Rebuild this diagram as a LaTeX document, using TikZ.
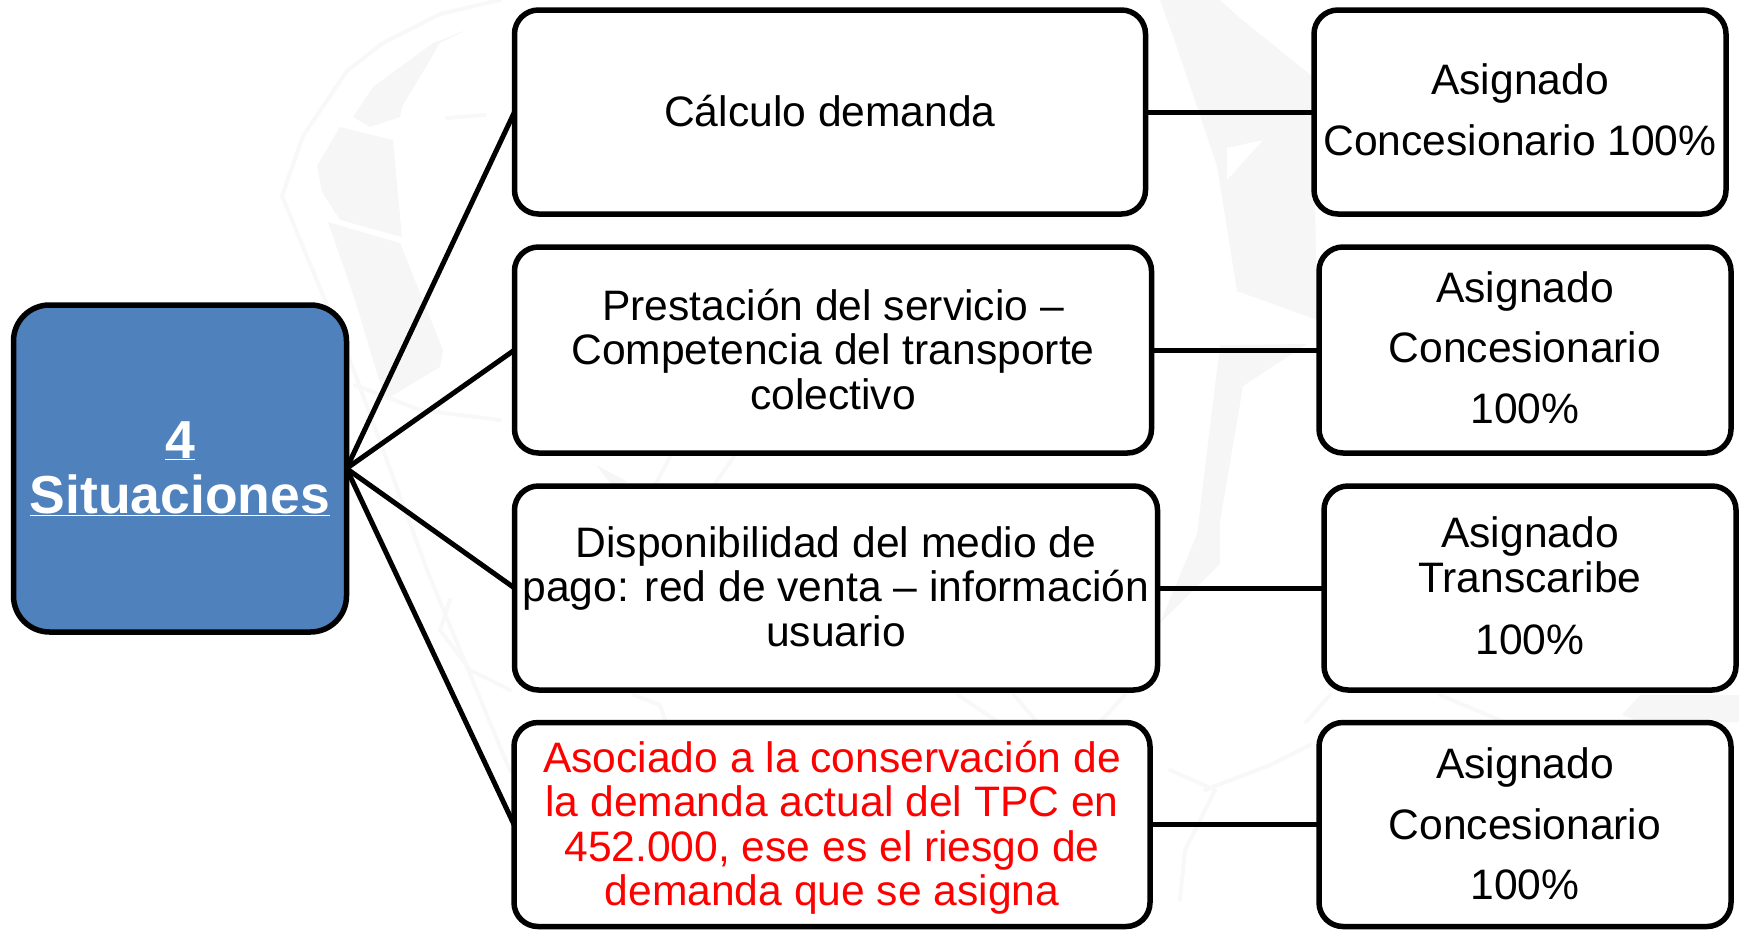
\documentclass[tikz,border=0pt]{standalone}
\usepackage{fontspec}
\setmainfont{Liberation Sans}
\definecolor{rootblue}{HTML}{4F81BD}
\definecolor{wm}{HTML}{F6F6F6}
\definecolor{wmpale}{HTML}{F8F8F8}
\tikzset{
  x=1pt,y=-1pt,
  box/.style={draw=black,line width=5.5pt,rounded corners=24pt,fill=white,outer sep=0pt,inner sep=0pt,align=center,font=\fontsize{42.6}{44.5}\selectfont},
  rootbox/.style={box,fill=rootblue,rounded corners=36pt,text=white,font=\fontsize{53.5}{55}\selectfont\bfseries},
  link/.style={line width=5pt,draw=black},
  wmfill/.style={fill=wm,draw=none},
  wmline/.style={draw=wmpale,line width=4pt,line join=round,line cap=round}
}
\begin{document}
\begin{tikzpicture}
\useasboundingbox (0,0) rectangle (1739,929);
% faint map watermark
\draw[wmline] (500,0) -- (440,14) -- (383,43) -- (347,71) -- (303,136) -- (282,196) -- (353,368) -- (427,570) -- (510,771);
\fill[wmfill] (353,117) -- (373,87) -- (433,43) -- (467,30) -- (440,43) -- (402,107) -- (400,117) -- (370,127) -- cycle;
\fill[wmfill] (317,166) -- (340,127) -- (393,140) -- (402,237) -- (340,220) -- (322,192) -- cycle;
\fill[wmfill] (328,222) -- (400,243) -- (443,350) -- (440,367) -- (385,400) -- (355,300) -- cycle;
\draw[wmline] (355,385) -- (420,410) -- (500,420);
\draw[wmline] (450,600) -- (440,630) -- (470,670) -- (510,690);
\draw[wmline] (447,118) -- (485,115);
\fill[wmfill] (1160,0) -- (1173,36) -- (1217,166) -- (1237,291) -- (1317,320) -- (1313,77) -- (1240,18) -- (1220,0) -- cycle;
\fill[white] (1227,180) -- (1263,140) -- (1227,148) -- cycle;
\fill[wmfill] (1220,345) -- (1207,451) -- (1197,534) -- (1160,623) -- (1220,564) -- (1220,522) -- (1243,386) -- (1307,344) -- cycle;
\draw[wmline] (1170,770) -- (1215,790) -- (1185,850) -- (1180,900);
\draw[wmline] (1205,790) -- (1270,765) -- (1310,745);
\fill[wmfill] (596,465) -- (628,482) -- (612,485) -- cycle;
\draw[wmline] (671,455) -- (655,485);
\draw[wmline] (735,455) -- (714,485);
\draw[wmline] (634,695) -- (660,705) -- (666,722);
\draw[wmline] (958,695) -- (998,722);
\draw[wmline] (1014,695) -- (1037,722);
\draw[wmline] (1125,695) -- (1100,722);
\draw[wmline] (1330,695) -- (1306,722);
\draw[wmline] (1440,695) -- (1504,722);
\fill[wmfill] (1739,695) -- (1640,695) -- (1622,715) -- (1640,722) -- (1739,722) -- cycle;
%
\node[rootbox,minimum width=333pt,minimum height=327pt] (root) at (180,468.5) {\underline{4}\\\underline{Situaciones}};
\node[box,minimum width=631pt,minimum height=204pt] (m1) at (830,112) {\raisebox{2pt}{Cálculo demanda}};
\node[box,minimum width=637pt,minimum height=206pt] (m2) at (833,350) {Prestación del servicio --\\Competencia del transporte\\colectivo\rule[-2pt]{0pt}{1pt}};
\node[box,minimum width=643pt,minimum height=204pt] (m3) at (836,588) {Disponibilidad del medio de\\pago: red de venta -- información\\usuario\rule[-3pt]{0pt}{1pt}};
\node[box,minimum width=636pt,minimum height=204pt,text=red] (m4) at (832,824.5) {\rule{0pt}{38pt}Asociado a la conservación de\\la demanda actual del TPC en\\452.000, ese es el riesgo de\\demanda que se asigna};
\node[box,minimum width=412pt,minimum height=204pt] (r1) at (1520,112) {Asignado\\[16pt]Concesionario 100\%\rule[-5pt]{0pt}{1pt}};
\node[box,minimum width=412pt,minimum height=206pt] (r2) at (1525,350) {Asignado\\[16pt]Concesionario\\[16pt]100\%\rule[-5pt]{0pt}{1pt}};
\node[box,minimum width=412pt,minimum height=204pt] (r3) at (1530,588) {Asignado\\Transcaribe\\[18pt]100\%\rule[-4pt]{0pt}{1pt}};
\node[box,minimum width=412pt,minimum height=204pt] (r4) at (1525,824.5) {Asignado\\[16pt]Concesionario\\[16pt]100\%\rule[-1pt]{0pt}{1pt}};
\foreach \m/\r in {m1/r1,m2/r2,m3/r3,m4/r4}{
  \draw[link] (root.east) -- (\m.west);
  \draw[link] (\m.east) -- (\r.west);
}
\end{tikzpicture}
\end{document}
